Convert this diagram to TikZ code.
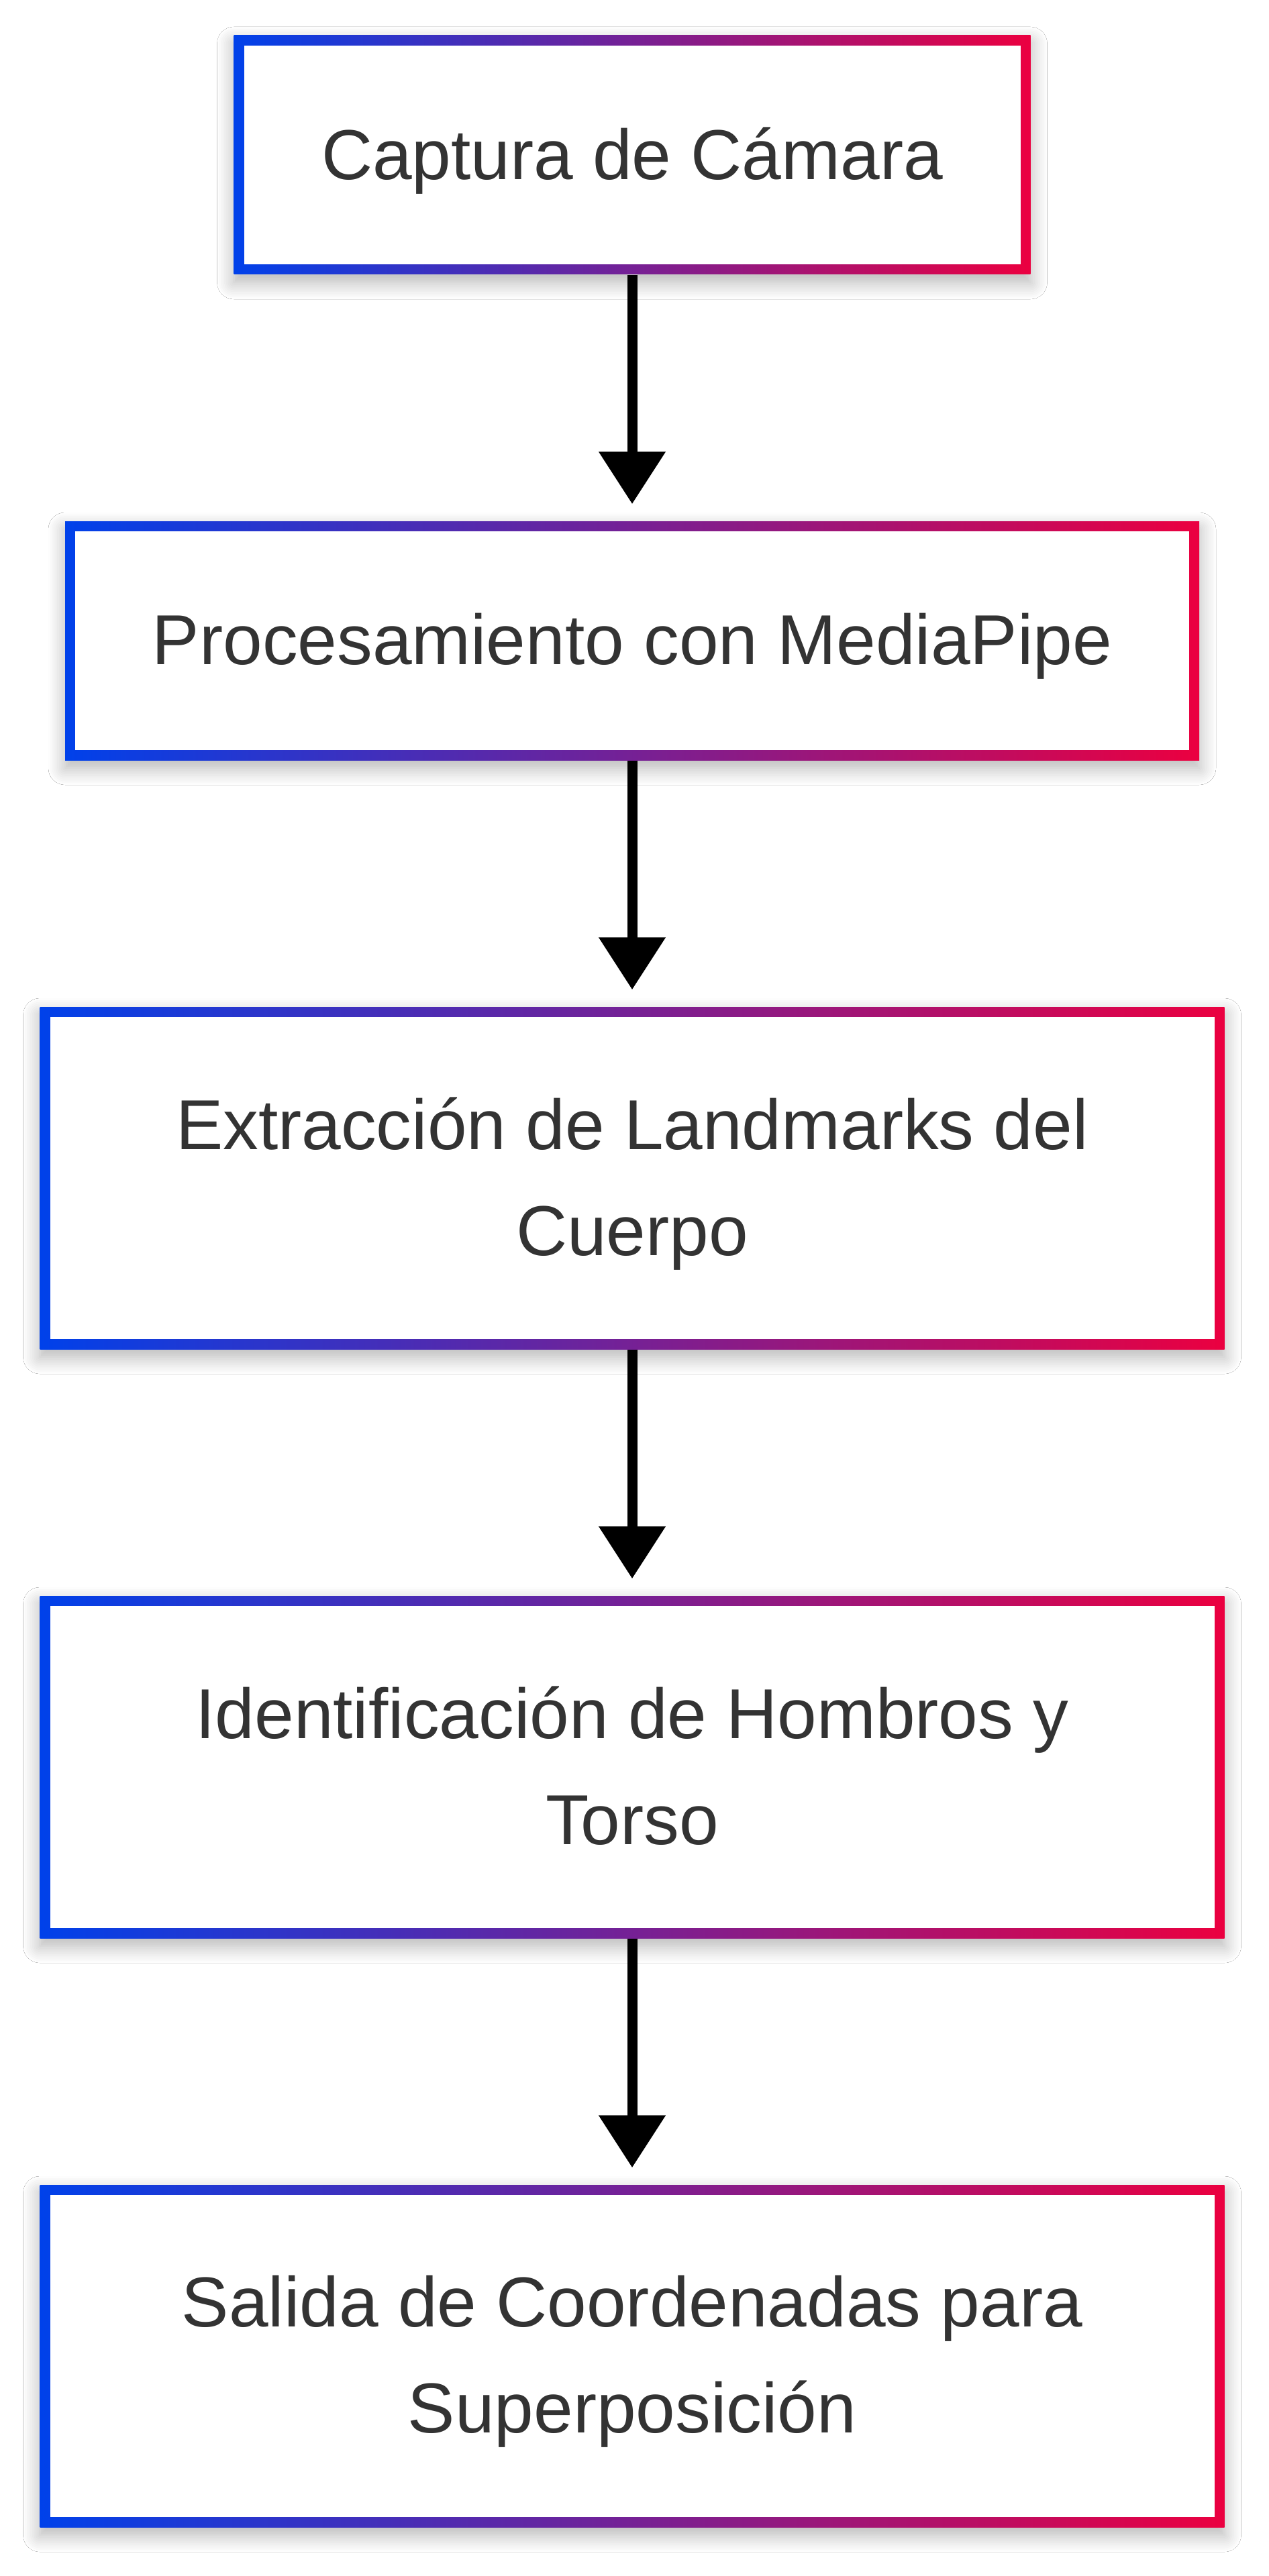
\documentclass[tikz,border=0pt]{standalone}
\usepackage{fontspec}
\setmainfont{Liberation Sans}
\usepackage{xcolor}
\usepackage{tikz}
\usetikzlibrary{arrows.meta, shadows.blur}
\definecolor{gblue}{RGB}{0,65,234}
\definecolor{gred}{RGB}{235,0,64}
\definecolor{txtgray}{RGB}{51,51,51}
\tikzstyle{stage} = [rectangle, fill=white, text=txtgray, font=\fontsize{30}{45}\selectfont, align=center, inner sep=0pt, text depth=0.05cm, minimum width=17.65cm, minimum height=5.10cm, blur shadow={shadow xshift=0cm, shadow yshift=-0.12cm, shadow blur radius=0.25cm, shadow blur steps=10, shadow opacity=30}, path picture={\shade[left color=gblue, right color=gred] (path picture bounding box.south west) rectangle (path picture bounding box.north east); \fill[white] ([shift={(0.15,0.15)}]path picture bounding box.south west) rectangle ([shift={(-0.15,-0.15)}]path picture bounding box.north east);}]
\tikzstyle{arrow} = [line width=0.15cm, -{Triangle[width=0.96cm, length=0.78cm]}, shorten >=0.25cm]

\begin{document}
\begin{tikzpicture}[node distance = 8.78cm]
    \path[use as bounding box, fill=white] (0,0) rectangle (18.9,-38.4);
    \node (start) [stage, minimum width=11.87cm, minimum height=3.56cm] at (9.42,-2.31) {Captura de Cámara};
    \node (in1) [stage, below of=start, yshift=1.54cm, minimum width=16.90cm, minimum height=3.56cm] {Procesamiento con MediaPipe};
    \node (in2) [stage, below of=in1, yshift=0.77cm] {Extracción de Landmarks del\\Cuerpo};
    \node (in3) [stage, below of=in2] {Identificación de Hombros y\\Torso};
    \node (in4) [stage, below of=in3] {Salida de Coordenadas para\\Superposición};
    \draw [arrow] (start) -- (in1);
    \draw [arrow] (in1) -- (in2);
    \draw [arrow] (in2) -- (in3);
    \draw [arrow] (in3) -- (in4);
\end{tikzpicture}
\end{document}
